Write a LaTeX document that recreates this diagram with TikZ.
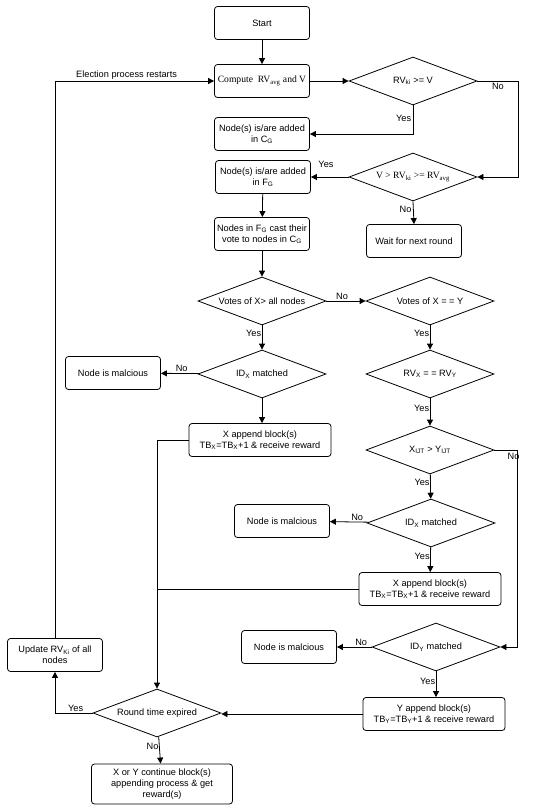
\documentclass[tikz,border=0pt]{standalone}
\usepackage{fontspec}
\setmainfont{Liberation Sans}
\newfontfamily\timesfont{Liberation Serif}
\usetikzlibrary{arrows.meta, positioning, shapes.geometric}

\begin{document}
\begin{tikzpicture}[
			x=1pt, y=-1pt,
			font=\fontsize{9.2}{11}\selectfont,
			flowbox/.style={rectangle, draw, rounded corners=3pt, minimum width=95pt, minimum height=33pt, align=center, inner sep=1pt},
			decision/.style={diamond, draw, minimum width=128pt, minimum height=48pt, aspect=2.67, inner sep=0pt, align=center},
			flow/.style={-{Triangle[length=6pt,width=6pt]}},
			every path/.style={line width=0.8pt},
			lbl/.style={inner sep=1.5pt}
		]
		\useasboundingbox (0,0) rectangle (550,811);
		% Election part
		\node[flowbox] (start) at (262,23) {Start};
		\node[flowbox] (compute) at (262,81) {\timesfont\fontsize{9.6}{11}\selectfont Compute\ \ RV\textsubscript{avg} and V};
		\node[decision] (rvk) at (413,81) {RV\textsubscript{ki} >= V};
		\node[flowbox] (cg) at (262,134) {Node(s) is/are added\\in C\textsubscript{G}};
		\node[decision] (vrv) at (413,177) {\timesfont\fontsize{9.6}{11}\selectfont V > RV\textsubscript{ki} >= RV\textsubscript{avg}};
		\node[flowbox] (fg) at (263,177) {Node(s) is/are added\\in F\textsubscript{G}};
		\node[flowbox] (wait) at (414,241) {Wait for next round};
		\node[flowbox] (cast) at (262,234) {Nodes in F\textsubscript{G} cast their\\vote to nodes in C\textsubscript{G}};
		
		% Voting part
		\node[decision] (votes) at (262,301) {Votes of X> all nodes};
		\node[decision] (eq) at (430,301) {Votes of X = = Y};
		\node[decision] (idx) at (262,374) {ID\textsubscript{X} matched};
		\node[flowbox] (mal1) at (113,373) {Node is malcious};
		\node[flowbox, minimum width=142pt] (xapp) at (260,440) {X append block(s)\\TB\textsubscript{X}=TB\textsubscript{X}+1 \& receive reward};
		\node[decision] (rv) at (430,374) {RV\textsubscript{X} = = RV\textsubscript{Y}};
		\node[decision] (ijt) at (430,450) {X\textsubscript{IJT} > Y\textsubscript{IJT}};
		\node[decision] (idx2) at (431,523) {ID\textsubscript{X} matched};
		\node[flowbox] (mal2) at (282,521) {Node is malcious};
		\node[flowbox, minimum width=142pt] (xapp2) at (430,589) {X append block(s)\\TB\textsubscript{X}=TB\textsubscript{X}+1 \& receive reward};
		\node[decision] (idy) at (436,647) {ID\textsubscript{Y} matched};
		\node[flowbox] (mal3) at (289,647) {Node is malcious};
		\node[flowbox, minimum width=142pt] (yapp) at (434,714) {Y append block(s)\\TB\textsubscript{Y}=TB\textsubscript{Y}+1 \& receive reward};
		
		% Round end
		\node[decision] (rte) at (157,713) {Round time expired};
		\node[flowbox] (update) at (55,655) {Update RV\textsubscript{Ki} of all\\nodes};
		\node[flowbox, minimum width=141pt, minimum height=40pt] (final) at (162,784) {X or Y continue block(s)\\appending process \& get\\reward(s)};
		
		% Connectors
		\draw[flow] (start) -- (compute);
		\draw[flow] (compute) -- (rvk);
		\draw[flow] (rvk.east) -- node[lbl, below, pos=.5] {No} ++(41,0) |- (vrv.east);
		\draw[flow] (rvk.south) -- node[lbl, left, pos=.45] {Yes} (rvk.south |- cg.east) -- (cg.east);
		\draw[flow] (vrv.west) -- node[lbl, above=8pt, pos=.6] {Yes} (fg.east);
		\draw[flow] (vrv.south) -- node[lbl, left, pos=.35] {No} (wait.north);
		\draw[flow] (fg) -- (cast);
		\draw[flow] (cast) -- (votes);
		\draw[flow] (votes) -- node[lbl, above, pos=.4] {No} (eq);
		\draw[flow] (votes) -- node[lbl, left=-1pt, pos=.35] {Yes} (idx);
		\draw[flow] (idx) -- node[lbl, above, pos=.45] {No} (mal1);
		\draw[flow] (idx.south) -- (idx.south |- xapp.north);
		\draw[flow] (xapp.west) -| (rte.north);
		\draw[flow] (eq) -- node[lbl, left=-1pt, pos=.35] {Yes} (rv);
		\draw[flow] (rv) -- node[lbl, left=-1pt, pos=.35] {Yes} (ijt);
		\draw[flow] (ijt.east) -- ++(23,0) node[lbl, below left=1pt and -4pt] {No} |- (idy.east);
		\draw[flow] (ijt) -- node[lbl, left=-1pt, pos=.35] {Yes} (idx2);
		\draw[flow] (idx2) -- node[lbl, above, pos=.3] {No} (mal2);
		\draw[flow] (idx2) -- node[lbl, left=-1pt, pos=.35] {Yes} (xapp2);
		\draw (xapp2.west) -- (xapp2.west -| rte.north);
		\draw[flow] (idy) -- node[lbl, above, pos=.3] {No} (mal3);
		\draw[flow] (idy.south) -- node[lbl, left=-1pt, pos=.4] {Yes} (idy.south |- yapp.north);
		\draw[flow] (yapp.west) -- (yapp.west -| rte.east);
		\draw[flow] (rte.west) -- node[lbl, above, pos=.45] {Yes} (rte.west -| update.south) -- (update.south);
		\draw[flow] (rte) -- node[lbl, left=-1pt, pos=.35] {No} (final);
		\draw[flow] (update.north) -- (update.north |- compute.west) -- node[lbl, above, pos=.45] {Election process restarts} (compute.west);
		\end{tikzpicture}
\end{document}
